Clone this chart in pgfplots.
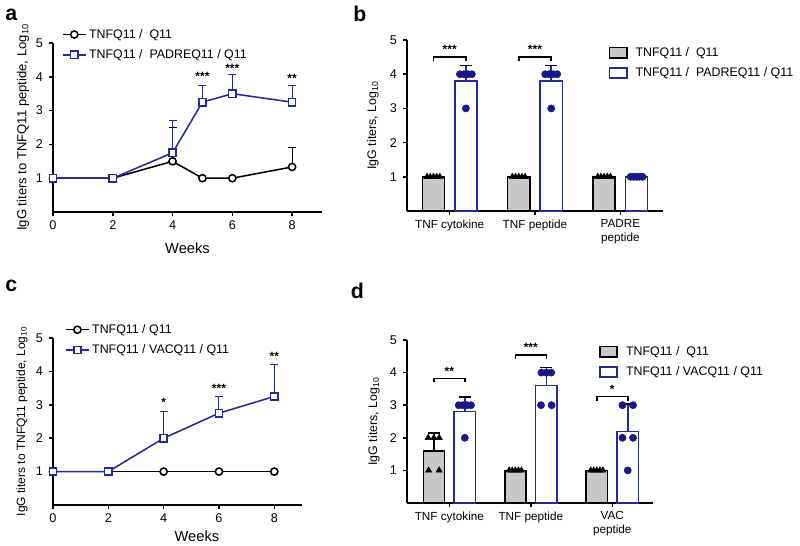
\documentclass[border=0pt]{standalone}
\usepackage{fontspec}
\setmainfont{Liberation Sans}
\usepackage{pgfplots}
\pgfplotsset{compat=1.18}
\definecolor{navy}{RGB}{38,42,150}
\definecolor{dotblue}{RGB}{22,26,135}
\definecolor{bargrey}{RGB}{200,200,200}
\pgfplotsset{
  panel/.style={
    scale only axis, anchor=south west,
    axis x line*=bottom, axis y line*=left,
    axis line style={line width=1.15pt, -},
    tick align=outside, major tick length=3pt,
    tick style={line width=1.15pt, black},
    ymin=0, ymax=5, ytick={1,2,3,4,5},
    /pgf/number format/assume math mode=true,
    ticklabel style={font=\fontsize{9.5}{10}\selectfont},
    yticklabel style={xshift=-1pt},
    clip=false,
    legend cell align=left,
    legend style={draw=none, fill=none, inner sep=0pt,
      font=\fontsize{9.3}{10}\selectfont, row sep=3pt, anchor=north west},
    label style={font=\fontsize{9.6}{11}\selectfont},
  },
  lineerr/.style={error bars/.cd, y dir=plus, y explicit,
    error bar style={line width=0.75pt, solid},
    error mark options={line width=0.75pt, mark size=3pt, rotate=90}},
  barerr/.style={error bars/.cd, y dir=plus, y explicit,
    error bar style={line width=1.15pt, solid},
    error mark options={line width=1.15pt, mark size=4.5pt, rotate=90}},
  greybar/.style={ybar, bar width=0.26, bar shift=0pt, fill=bargrey, draw=black, line width=1.15pt, barerr},
  bluebar/.style={ybar, bar width=0.26, bar shift=0pt, fill=white, draw=navy, line width=1.15pt, barerr},
  tri/.style={only marks, mark=triangle*, mark size=2.7pt, black, forget plot},
  dots/.style={only marks, mark=*, mark size=2.7pt, dotblue, forget plot},
  barlegend/.style={legend image code/.code={\draw[##1, line width=1.15pt] (0pt,-3.8pt) rectangle (13pt,3.8pt);},
    legend style={column sep=0pt, nodes={inner xsep=6pt}}},
}
\newcommand{\bracket}[4]{% x1, x2, y, stars
  \draw[line width=1.15pt, black] (axis cs:#1,#3-0.12) -- (axis cs:#1,#3) -- (axis cs:#2,#3) -- (axis cs:#2,#3-0.12);
  \node[font=\fontsize{9}{10}\selectfont\bfseries, inner sep=0pt] at (axis cs:{(#1+#2)/2},#3+0.22) {#4};}
\newcommand{\LogTen}{Log\textsubscript{10}}
\begin{document}
\begin{tikzpicture}
\path[use as bounding box] (0,0) rectangle (600pt,409.5pt);
% panel labels
\node[font=\fontsize{16}{18}\selectfont\bfseries] at (8.5pt,398pt) {a};
\node[font=\fontsize{16}{18}\selectfont\bfseries] at (270pt,399pt) {b};
\node[font=\fontsize{16}{18}\selectfont\bfseries] at (8.5pt,195pt) {c};
\node[font=\fontsize{16}{18}\selectfont\bfseries] at (268pt,191pt) {d};

% ---------- panel a ----------
\begin{axis}[panel, at={(39.75pt,250.5pt)}, width=201.75pt, height=126.75pt,
  xmin=0, xmax=9, xtick={0,2,4,6,8},
  xlabel={Weeks}, xlabel style={at={(axis description cs:0.5,-0.215)}, anchor=center, font=\fontsize{11}{12}\selectfont},
  ylabel={IgG titers to TNFQ11 peptide, \LogTen},
  ylabel style={at={(axis description cs:-0.112,0.5)}, anchor=center, font=\fontsize{9.8}{11}\selectfont},
  legend style={at={(axis description cs:0.033,1.10)}}]
\addplot[black, line width=1.15pt, mark=*, mark size=2.7pt, mark options={fill=white, solid}, lineerr]
  coordinates {(0,1) +- (0,0) (2,1) +- (0,0) (4,1.5) +- (0,1.0) (5,1) +- (0,0) (6,1) +- (0,0) (8,1.333) +- (0,0.57)};
\addlegendentry{TNFQ11 /\ \ Q11}
\addplot[navy, line width=1.15pt, mark=square*, mark size=2.7pt, mark options={fill=white, solid}, lineerr]
  coordinates {(0,1) +- (0,0) (2,1) +- (0,0) (4,1.75) +- (0,0.95) (5,3.25) +- (0,0.5) (6,3.5) +- (0,0.58) (8,3.25) +- (0,0.5)};
\addlegendentry{TNFQ11 /\ \ PADREQ11 / Q11}
\node[font=\fontsize{9}{10}\selectfont\bfseries] at (axis cs:5,4.0) {***};
\node[font=\fontsize{9}{10}\selectfont\bfseries] at (axis cs:6,4.26) {***};
\node[font=\fontsize{9}{10}\selectfont\bfseries] at (axis cs:8,3.95) {**};
\end{axis}

% ---------- panel b ----------
\begin{axis}[panel, barlegend, at={(305.25pt,251.25pt)}, width=192pt, height=128.25pt,
  xmin=-0.5, xmax=2.5, xtick={0,1,2},
  xticklabels={TNF cytokine, TNF peptide, {PADRE\\peptide}},
  xticklabel style={align=center, font=\fontsize{8.8}{10.5}\selectfont},
  ylabel={IgG titers, \LogTen},
  ylabel style={at={(axis description cs:-0.133,0.5)}, anchor=center, font=\fontsize{9.3}{11}\selectfont},
  legend style={at={(axis description cs:0.787,0.975)}}]
\addplot[greybar] coordinates {(-0.19,1) +- (0,0) (0.81,1) +- (0,0) (1.81,1) +- (0,0)};
\addlegendentry{TNFQ11 /\ \ Q11}
\addplot[bluebar] coordinates {(0.19,3.8) +- (0,0.45) (1.19,3.8) +- (0,0.45) (2.19,1) +- (0,0)};
\addlegendentry{TNFQ11 /\ \ PADREQ11 / Q11}
\addplot[tri] coordinates {(-0.265,1) (-0.228,1) (-0.19,1) (-0.152,1) (-0.115,1)
  (0.735,1) (0.772,1) (0.81,1) (0.848,1) (0.885,1)
  (1.735,1) (1.772,1) (1.81,1) (1.848,1) (1.885,1)};
\addplot[dots] coordinates {(0.12,4) (0.166,4) (0.214,4) (0.26,4) (0.19,3)
  (1.12,4) (1.166,4) (1.214,4) (1.26,4) (1.19,3)
  (2.12,1) (2.155,1) (2.19,1) (2.225,1) (2.26,1)};
\bracket{-0.19}{0.19}{4.5}{***}
\bracket{0.81}{1.19}{4.5}{***}
\end{axis}

% ---------- panel c ----------
\begin{axis}[panel, at={(39.75pt,30.75pt)}, width=186.75pt, height=125.25pt,
  xmin=0, xmax=9, xtick={0,2,4,6,8},
  xlabel={Weeks}, xlabel style={at={(axis description cs:0.578,-0.19)}, anchor=center, font=\fontsize{11}{12}\selectfont},
  ylabel={IgG titers to TNFQ11 peptide, \LogTen},
  ylabel style={at={(axis description cs:-0.124,0.5)}, anchor=center, font=\fontsize{9}{11}\selectfont},
  legend style={at={(axis description cs:0.048,1.10)}}]
\addplot[black, line width=1.15pt, mark=*, mark size=2.7pt, mark options={fill=white, solid}, lineerr]
  coordinates {(0,1) +- (0,0) (2,1) +- (0,0) (4,1) +- (0,0) (6,1) +- (0,0) (8,1) +- (0,0)};
\addlegendentry{TNFQ11 / Q11}
\addplot[navy, line width=1.15pt, mark=square*, mark size=2.7pt, mark options={fill=white, solid}, lineerr]
  coordinates {(0,1) +- (0,0) (2,1) +- (0,0) (4,2) +- (0,0.81) (6,2.75) +- (0,0.49) (8,3.25) +- (0,0.95)};
\addlegendentry{TNFQ11 / VACQ11 / Q11}
\node[font=\fontsize{9}{10}\selectfont\bfseries] at (axis cs:4,3.08) {*};
\node[font=\fontsize{9}{10}\selectfont\bfseries] at (axis cs:6,3.48) {***};
\node[font=\fontsize{9}{10}\selectfont\bfseries] at (axis cs:8,4.45) {**};
\end{axis}

% ---------- panel d ----------
\begin{axis}[panel, barlegend, at={(305.25pt,32.25pt)}, width=184.5pt, height=122.25pt,
  xmin=-0.52, xmax=2.5, xtick={0,1,2},
  xticklabels={TNF cytokine, TNF peptide, {VAC\\peptide}},
  xticklabel style={align=center, font=\fontsize{8.8}{10.5}\selectfont},
  ylabel={IgG titers, \LogTen},
  ylabel style={at={(axis description cs:-0.134,0.5)}, anchor=center, font=\fontsize{9.3}{11}\selectfont},
  legend style={at={(axis description cs:0.78,0.98)}}]
\addplot[greybar] coordinates {(-0.19,1.6) +- (0,0.55) (0.81,1) +- (0,0) (1.81,1) +- (0,0)};
\addlegendentry{TNFQ11 /\ \ Q11}
\addplot[bluebar] coordinates {(0.19,2.8) +- (0,0.45) (1.19,3.6) +- (0,0.55) (2.19,2.2) +- (0,0.84)};
\addlegendentry{TNFQ11 / VACQ11 / Q11}
\addplot[tri] coordinates {(-0.26,2) (-0.19,2) (-0.125,2) (-0.255,1) (-0.125,1)
  (0.735,1) (0.772,1) (0.81,1) (0.848,1) (0.885,1)
  (1.735,1) (1.772,1) (1.81,1) (1.848,1) (1.885,1)};
\addplot[dots] coordinates {(0.115,3) (0.165,3) (0.215,3) (0.265,3) (0.19,2)
  (1.13,4) (1.19,4) (1.25,4) (1.125,3) (1.255,3)
  (2.125,3) (2.255,3) (2.125,2) (2.255,2) (2.19,1)};
\bracket{-0.19}{0.19}{3.82}{**}
\bracket{0.81}{1.19}{4.54}{***}
\bracket{1.81}{2.19}{3.26}{*}
\end{axis}
\end{tikzpicture}
\end{document}
